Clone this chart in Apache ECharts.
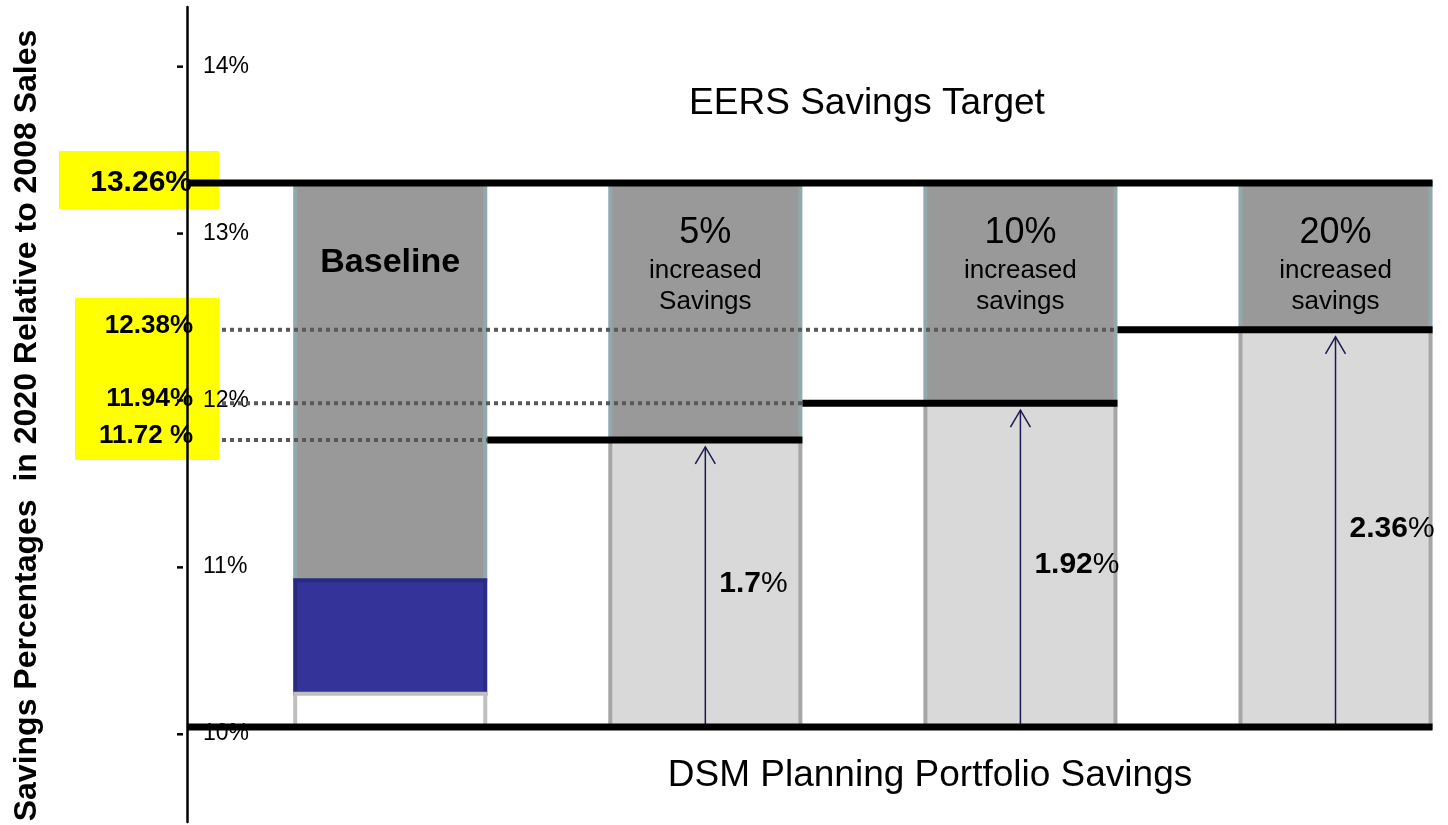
<!DOCTYPE html>
<html><head><meta charset="utf-8">
<script src="https://cdn.jsdelivr.net/npm/echarts@6/dist/echarts.min.js"></script>
<style>html,body{margin:0;padding:0;background:#fff}#c{width:1448px;height:825px}</style>
</head><body><div id="c"></div>
<script>
// ---- data ----
const scenarios = ['Baseline', '5%', '10%', '20%'];
const scenarioSub = [[], ['increased', 'Savings'], ['increased', 'savings'], ['increased', 'savings']];
const targetPct = 13.26;
const floorPct = 10.0;
const baselineStack = [10.2, 10.88];          // top of white block, top of blue block
const portfolioPct = [null, 11.72, 11.94, 12.38];
const increaseLabels = [null, '1.7', '1.92', '2.36'];
const levelLabels = [null, '11.72 %', '11.94%', '12.38%'];
const targetLabel = '13.26%';
const yTicks = [10, 11, 12, 13, 14];
const targetTitle = 'EERS Savings Target';
const portfolioTitle = 'DSM Planning Portfolio Savings';
const yTitle = 'Savings Percentages  in 2020 Relative to 2008 Sales';

// ---- helpers ----
const FONT = '"Liberation Sans", Arial, Helvetica, sans-serif';
const BAR_FRAC = 0.616;
function barGeom(api, i) {
  const w = api.size([1, 0])[0] * BAR_FRAC;
  const cx = api.coord([i, floorPct])[0];
  return { cx: cx, w: w, left: cx - w / 2, right: cx + w / 2 };
}
function yOf(api, v) { return api.coord([0, v])[1]; }
function rectEl(x0, y0, x1, y1, fill, stroke, lw) {
  return { type: 'rect', shape: { x: x0 + lw / 2, y: y0, width: x1 - x0 - lw, height: y1 - y0 },
           style: { fill: fill, stroke: stroke, lineWidth: lw } };
}
function textEl(x, y, text, font, align) {
  return { type: 'text', x: x, y: y,
           style: { text: text, font: font, fill: '#000', textAlign: align || 'center', textVerticalAlign: 'middle' } };
}
function lineEl(x0, y0, x1, y1, color, lw, dash) {
  return { type: 'line', shape: { x1: x0, y1: y0, x2: x1, y2: y1 },
           style: { stroke: color, lineWidth: lw, lineDash: dash || null } };
}

const option = {
  animation: false,
  grid: { left: 187, right: 0, top: 7, bottom: 3, containLabel: false, outerBoundsMode: 'none' },
  xAxis: { type: 'value', min: -0.645, max: 3.357, show: false },
  yAxis: {
    type: 'value', min: 9.431, max: 14.314, position: 'left', z: 2,
    axisLine: { show: true, onZero: false, lineStyle: { color: '#000', width: 2.5 } },
    axisTick: { show: false },
    splitLine: { show: false },
    axisLabel: { show: false },
    name: yTitle, nameLocation: 'middle', nameGap: 144, nameRotate: 90,
    nameTextStyle: { fontSize: 32, fontWeight: 'bold', color: '#000', fontFamily: FONT, padding: [0, 22, 0, 0] }
  },
  graphic: [
    { type: 'text', x: 867, y: 104, z: 10,
      style: { text: targetTitle, font: '37px ' + FONT, fill: '#000', textAlign: 'center', textVerticalAlign: 'middle' } },
    { type: 'text', x: 930, y: 776, z: 10,
      style: { text: portfolioTitle, font: '37px ' + FONT, fill: '#000', textAlign: 'center', textVerticalAlign: 'middle' } }
  ],
  series: [
    // tick marks and tick labels of the percentage axis
    {
      type: 'custom', z: 3, clip: false, silent: true,
      data: yTicks.map(v => [0, v]),
      renderItem: function (params, api) {
        const ax = params.coordSys.x;
        const y = yOf(api, api.value(1)) + 7;
        return { type: 'group', children: [
          { type: 'rect', shape: { x: ax - 10, y: y - 1, width: 6, height: 2.5 }, style: { fill: '#000' } },
          textEl(ax + 16, y, api.value(1) + '%', '23px ' + FONT, 'left')
        ] };
      }
    },
    // yellow value boxes
    {
      type: 'custom', z: 1, clip: false, silent: true,
      data: [[0, targetPct]],
      renderItem: function (params, api) {
        const ax = params.coordSys.x;
        const yT = yOf(api, targetPct);
        const lv = portfolioPct.filter(v => v != null);
        const ys = lv.map(v => yOf(api, v));
        const yMin = Math.min.apply(null, ys), yMax = Math.max.apply(null, ys);
        const children = [
          { type: 'rect', shape: { x: ax - 128, y: yT - 32, width: 160, height: 58 }, style: { fill: '#ffff00' } },
          { type: 'rect', shape: { x: ax - 112, y: yMin - 32, width: 144, height: yMax - yMin + 52 }, style: { fill: '#ffff00' } },
          textEl(ax + 5, yT, targetLabel, 'bold 30px ' + FONT, 'right')
        ];
        for (let i = 1; i < portfolioPct.length; i++) {
          children.push(textEl(ax + 6, yOf(api, portfolioPct[i]) - 4, levelLabels[i], 'bold 26px ' + FONT, 'right'));
        }
        return { type: 'group', children: children };
      }
    },
    // bars
    {
      type: 'custom', z: 2, clip: false, silent: true,
      data: scenarios.map((s, i) => [i, i === 0 ? baselineStack[1] : portfolioPct[i]]),
      renderItem: function (params, api) {
        const i = api.value(0);
        const g = barGeom(api, i);
        const yTop = yOf(api, targetPct);
        const yFloor = yOf(api, floorPct);
        const children = [];
        if (i === 0) {
          const yW = yOf(api, baselineStack[0]);
          const yB = yOf(api, baselineStack[1]);
          children.push(rectEl(g.left, yTop, g.right, yB, '#999999', '#8fa9ad', 4));
          children.push(rectEl(g.left, yB, g.right, yW, '#333399', '#2a2a80', 4));
          children.push(rectEl(g.left, yW, g.right, yFloor, '#ffffff', '#bfbfbf', 4));
          children.push(textEl(g.cx, yTop + 80, scenarios[i], 'bold 34px ' + FONT));
        } else {
          const yP = yOf(api, portfolioPct[i]);
          children.push(rectEl(g.left, yTop, g.right, yP, '#999999', '#8fa9ad', 4));
          children.push(rectEl(g.left, yP, g.right, yFloor, '#d9d9d9', '#a6a6a6', 4));
          children.push(textEl(g.cx, yTop + 50, scenarios[i], '36px ' + FONT));
          scenarioSub[i].forEach((t, k) => children.push(textEl(g.cx, yTop + 88 + k * 31, t, '26px ' + FONT)));
        }
        return { type: 'group', children: children };
      }
    },
    // level lines (dotted guide + solid step)
    {
      type: 'custom', z: 4, clip: false, silent: true,
      data: portfolioPct.map((v, i) => [i, v]).filter(d => d[1] != null),
      renderItem: function (params, api) {
        const i = api.value(0);
        const y = yOf(api, api.value(1));
        const prev = barGeom(api, i - 1);
        const cur = barGeom(api, i);
        const ax = params.coordSys.x;
        return { type: 'group', children: [
          lineEl(ax + 35, y, prev.right, y, '#595959', 4, [4, 4]),
          lineEl(prev.right, y, cur.right, y, '#000', 7)
        ] };
      }
    },
    // target & floor lines
    {
      type: 'custom', z: 5, clip: false, silent: true,
      data: [[0, targetPct], [0, floorPct]],
      renderItem: function (params, api) {
        const y = yOf(api, api.value(1));
        const last = barGeom(api, scenarios.length - 1);
        return lineEl(params.coordSys.x, y, last.right, y, '#000', 7);
      }
    },
    // arrows with increase labels
    {
      type: 'custom', z: 4, clip: false, silent: true,
      data: portfolioPct.map((v, i) => [i, v]).filter(d => d[1] != null),
      renderItem: function (params, api) {
        const i = api.value(0);
        const v = api.value(1);
        const g = barGeom(api, i);
        const yFloor = yOf(api, floorPct);
        const tip = yOf(api, v) + 7;
        const yMid = yOf(api, (v + floorPct) / 2);
        return { type: 'group', children: [
          lineEl(g.cx, yFloor, g.cx, tip, '#1a1a50', 1.5),
          { type: 'polyline', shape: { points: [[g.cx - 10, tip + 17], [g.cx, tip], [g.cx + 10, tip + 17]] },
            style: { stroke: '#1a1a50', lineWidth: 1.5, fill: null } },
          { type: 'text', x: g.cx + 14, y: yMid,
            style: { text: '{b|' + increaseLabels[i] + '}{r|%}', textAlign: 'left', textVerticalAlign: 'middle',
                     rich: { b: { font: 'bold 30px ' + FONT, fill: '#000' }, r: { font: '30px ' + FONT, fill: '#000' } } } }
        ] };
      }
    }
  ]
};
const chart = echarts.init(document.getElementById('c'), null, { renderer: 'canvas' });
chart.setOption(option);
</script></body></html>
